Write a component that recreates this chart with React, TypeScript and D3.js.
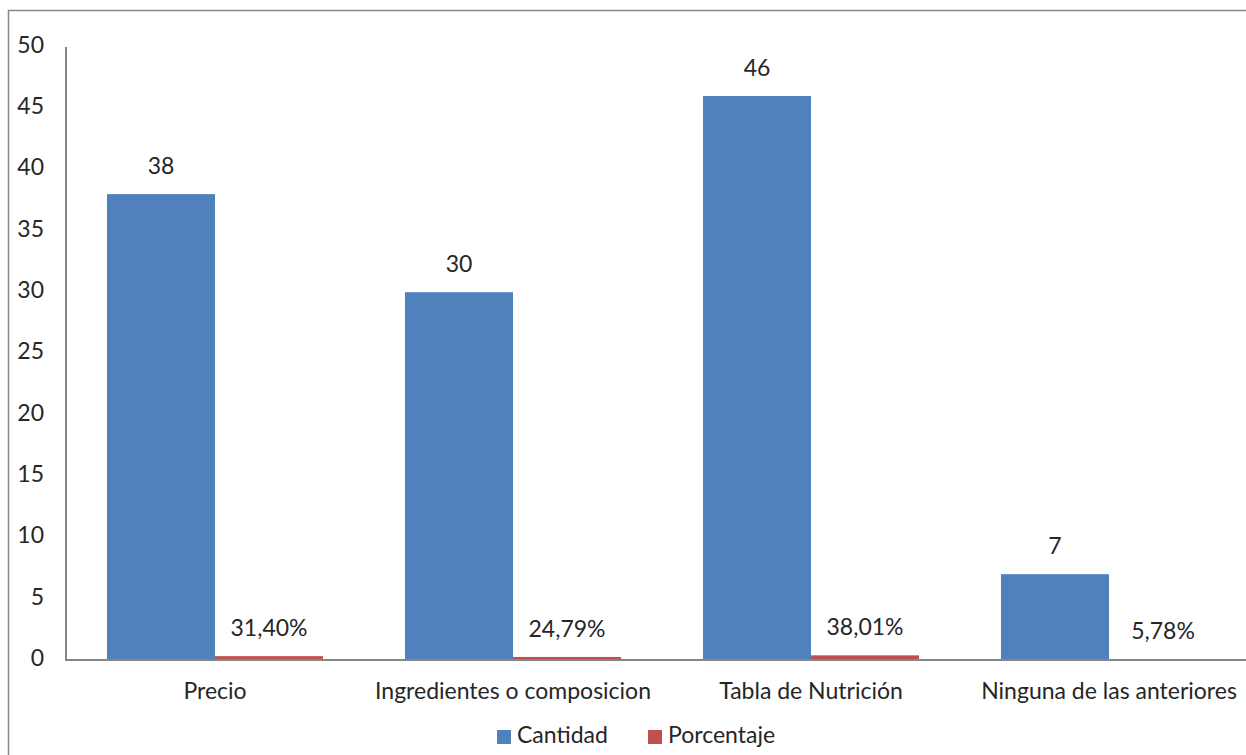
import React from "react";
import * as d3 from "d3";

const categories = ["Precio", "Ingredientes o composicion", "Tabla de Nutrición", "Ninguna de las anteriores"];
const cantidad = [38, 30, 46, 7];
const porcentaje = [0.314, 0.2479, 0.3801, 0.0578];
const porcentajeLabels = ["31,40%", "24,79%", "38,01%", "5,78%"];
const yTicks = [0, 5, 10, 15, 20, 25, 30, 35, 40, 45, 50];
const seriesNames = ["Cantidad", "Porcentaje"];
const seriesColors = ["#4F81BD", "#C0504D"];

const W = 1246;
const H = 755;
const FONT = "Lato, 'Open Sans', sans-serif";
const FS = 23;
const TEXT = "#262626";

export default function App() {
  const x0 = 66;
  const y = d3.scaleLinear().domain([0, 50]).range([660, 47]);
  const x = d3
    .scaleBand<string>()
    .domain(categories)
    .range([x0, x0 + 4 * 298])
    .paddingInner(0.275)
    .paddingOuter(0.1375);
  const sub = d3.scaleBand<string>().domain(seriesNames).range([0, x.bandwidth()]);

  const rows = categories.map((c, i) => ({
    c,
    vals: [
      { s: seriesNames[0], v: cantidad[i], label: String(cantidad[i]) },
      { s: seriesNames[1], v: porcentaje[i], label: porcentajeLabels[i] },
    ],
  }));

  return (
    <svg
      width={W}
      height={H}
      style={{ position: "fixed", left: 0, top: 0, background: "#fff" }}
      fontFamily={FONT}
    >
      <rect x={8.5} y={10.5} width={W + 20} height={H + 20} fill="#fff" stroke="#878787" strokeWidth={1.5} />

      {/* y axis labels */}
      {yTicks.map((t) => (
        <text key={t} x={44} y={y(t)} textAnchor="end" dominantBaseline="middle" fontSize={FS} fill={TEXT}>
          {t}
        </text>
      ))}

      {/* bars */}
      {rows.map((r) => (
        <g key={r.c} transform={`translate(${x(r.c)},0)`}>
          {r.vals.map((d, j) => (
            <g key={d.s}>
              <rect
                x={sub(d.s)}
                y={y(d.v)}
                width={sub.bandwidth()}
                height={y(0) - y(d.v)}
                fill={seriesColors[j]}
              />
              <text
                x={(sub(d.s) as number) + sub.bandwidth() / 2}
                y={y(d.v) - 26}
                textAnchor="middle"
                dominantBaseline="middle"
                fontSize={FS}
                fill={TEXT}
              >
                {d.label}
              </text>
            </g>
          ))}
          <text
            x={x.bandwidth() / 2}
            y={693}
            textAnchor="middle"
            dominantBaseline="middle"
            fontSize={FS}
            fill={TEXT}
          >
            {r.c}
          </text>
        </g>
      ))}

      {/* axes */}
      <line x1={x0} x2={x0} y1={y(50)} y2={y(0)} stroke="#868686" strokeWidth={2} />
      <line x1={x0 - 1} x2={W} y1={y(0)} y2={y(0)} stroke="#868686" strokeWidth={2} />

      {/* legend */}
      {seriesNames.map((s, i) => {
        const lx = [497, 648][i];
        return (
          <g key={s}>
            <rect x={lx} y={730} width={14} height={14} fill={seriesColors[i]} />
            <text x={lx + 20} y={737} dominantBaseline="middle" fontSize={FS} fill={TEXT}>
              {s}
            </text>
          </g>
        );
      })}
    </svg>
  );
}
